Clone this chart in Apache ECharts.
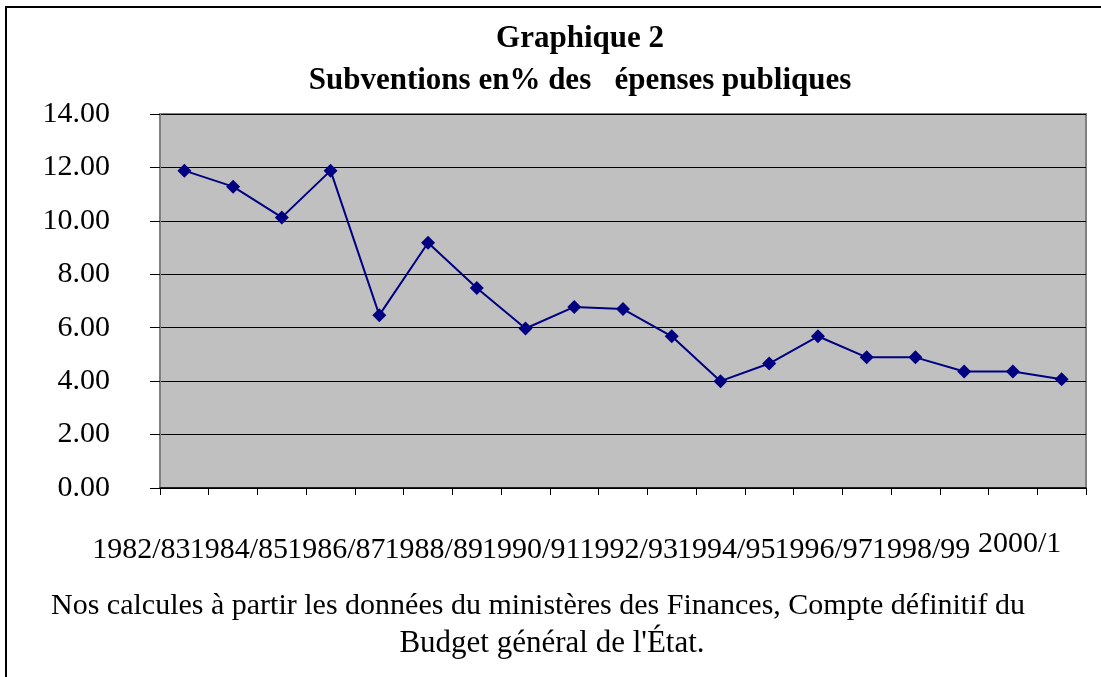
<!DOCTYPE html>
<html>
<head>
<meta charset="utf-8">
<script src="https://cdn.jsdelivr.net/npm/echarts@6/dist/echarts.min.js"></script>
<style>
  html, body { margin: 0; padding: 0; background: #fff; }
  #chart { width: 1101px; height: 677px; }
</style>
</head>
<body>
<div id="chart"></div>
<script>
// années budgétaires
var categories = ['1982/83', '1983/84', '1984/85', '1985/86', '1986/87', '1987/88', '1988/89',
  '1989/90', '1990/91', '1991/92', '1992/93', '1993/94', '1994/95', '1995/96', '1996/97',
  '1997/98', '1998/99', '1999/00', '2000/1'];
// subventions en % des dépenses publiques
var subventions = [11.88, 11.28, 10.13, 11.88, 6.47, 9.18, 7.49, 5.97, 6.78, 6.70,
  5.68, 4.00, 4.66, 5.68, 4.89, 4.89, 4.36, 4.36, 4.07];
var yTicks = { min: 0, max: 14, step: 2 };

var serif = "'Liberation Serif', 'Times New Roman', serif";

var chart = echarts.init(document.getElementById('chart'));

var option = {
  backgroundColor: '#ffffff',
  animation: false,
  title: [
    {
      text: 'Graphique 2\nSubventions en% des   épenses publiques',
      left: 575,
      top: 13,
      textAlign: 'center',
      textStyle: { fontFamily: serif, fontSize: 31, fontWeight: 'bold', color: '#000', lineHeight: 42 }
    },
    {
      text: 'Nos calcules à partir les données du ministères des Finances, Compte définitif du',
      left: 533,
      top: 583,
      textAlign: 'center',
      textStyle: { fontFamily: serif, fontSize: 30, fontWeight: 'normal', color: '#000', lineHeight: 37 }
    },
    {
      text: "Budget général de l'État.",
      left: 547,
      top: 620,
      textAlign: 'center',
      textStyle: { fontFamily: serif, fontSize: 31, fontWeight: 'normal', color: '#000', lineHeight: 37 }
    }
  ],
  graphic: [
    {
      type: 'rect',
      shape: { x: 6, y: 7, width: 1200, height: 800 },
      style: { fill: 'none', stroke: '#000', lineWidth: 2 },
      silent: true
    }
  ],
  grid: {
    left: 160,
    top: 114,
    right: 15,
    bottom: 189,
    show: true,
    backgroundColor: '#c0c0c0',
    borderColor: '#808080',
    borderWidth: 2
  },
  xAxis: {
    type: 'category',
    data: categories,
    boundaryGap: true,
    axisLine: { show: true, lineStyle: { color: '#000', width: 1.5 } },
    axisTick: { show: true, length: 7, interval: 0, lineStyle: { color: '#000' } },
    axisLabel: {
      // toutes les étiquettes sont gardées, une sur deux est vide
      interval: 0,
      margin: 41,
      hideOverlap: false,
      fontFamily: serif,
      fontSize: 30,
      color: '#000',
      formatter: function (v, i) {
        if (i % 2 === 1) return '';
        return i === categories.length - 1 ? '{b|' + v + '}' : '{a|' + v + '}';
      },
      rich: {
        a: { fontFamily: serif, fontSize: 30, color: '#000', padding: [6, 86, 0, 0] },
        b: { fontFamily: serif, fontSize: 30, color: '#000', padding: [0, 84, 0, 0] }
      }
    },
    splitLine: { show: false }
  },
  yAxis: {
    type: 'value',
    min: yTicks.min,
    max: yTicks.max,
    interval: yTicks.step,
    axisLine: { show: true, lineStyle: { color: '#808080', width: 2 } },
    axisTick: { show: true, length: 10, inside: false, lineStyle: { color: '#000' } },
    axisLabel: {
      margin: 50,
      fontFamily: serif,
      fontSize: 30,
      color: '#000',
      formatter: function (v) { return v.toFixed(2); }
    },
    splitLine: { show: true, lineStyle: { color: '#000', width: 1 } }
  },
  series: [
    {
      name: 'Subventions',
      type: 'line',
      data: subventions,
      symbol: 'diamond',
      symbolSize: 14,
      itemStyle: { color: '#000080' },
      lineStyle: { color: '#000080', width: 2 }
    }
  ]
};

chart.setOption(option);
</script>
</body>
</html>
